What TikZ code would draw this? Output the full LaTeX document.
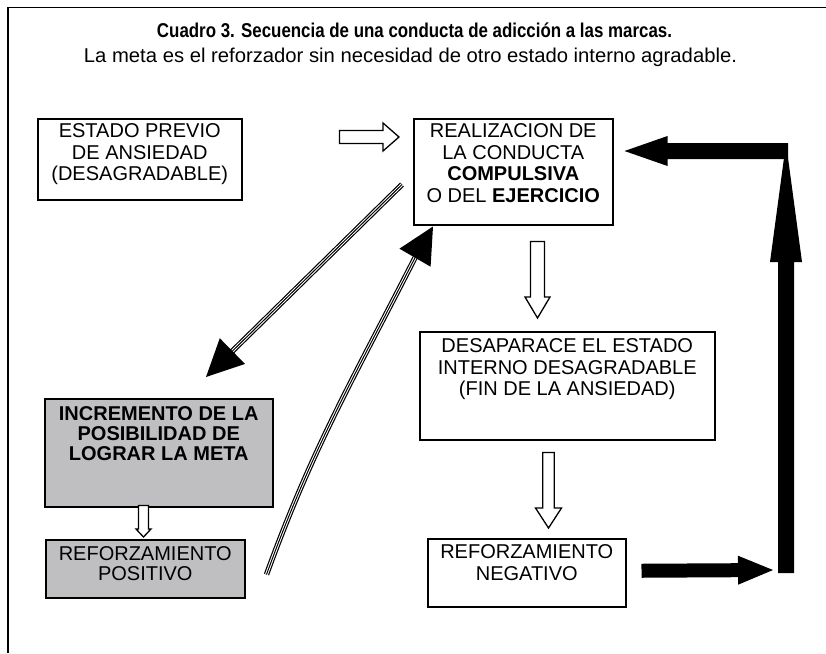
\documentclass[tikz,border=0pt]{standalone}
\usepackage{fontspec}
\setmainfont{Liberation Sans}
\usepackage{graphicx}
\usetikzlibrary{calc}
\definecolor{boxgray}{RGB}{191,191,193}

\begin{document}
\begin{tikzpicture}[
            x=1pt, y=-1pt,
            box/.style={
                    draw=black,
                    rectangle,
                    line width=1.5pt,
                    anchor=north west,
                    inner xsep=0pt,
                    inner ysep=0pt,
                    align=center,
                    font=\fontsize{20}{21.5}\selectfont
                },
            grayBox/.style={
                    box,
                    fill=boxgray,
                    font=\fontsize{20}{20}\selectfont\bfseries
                },
            titleText/.style={
                    anchor=base,
                    inner sep=0pt,
                    font=\fontsize{20}{22}\selectfont
                },
            blockarrow/.style n args={3}{
                    to path={
                            ($(\tikztotarget)!#3!(\tikztostart)$) coordinate (bq)
                            ($(\tikztostart)!#1!90:(\tikztotarget)$)
                            -- ($(bq)!#1!-90:(\tikztostart)$)
                            -- ($(bq)!#2!-90:(\tikztostart)$)
                            -- (\tikztotarget)
                            -- ($(bq)!#2!90:(\tikztostart)$)
                            -- ($(bq)!#1!90:(\tikztostart)$)
                            -- ($(\tikztostart)!#1!-90:(\tikztotarget)$)
                            -- cycle
                        }
                },
            hollow/.style n args={3}{
                    draw=black,
                    fill=white,
                    line width=1.3pt,
                    blockarrow={#1}{#2}{#3}
                },
            blackArrow/.style n args={3}{
                    fill=black,
                    blockarrow={#1}{#2}{#3}
                },
            tripleLine/.style={
                    draw=black,
                    line width=5.4pt,
                    shorten >=#1,
                    postaction={draw=white, line width=3pt, shorten >=#1},
                    postaction={draw=black, line width=1pt, shorten >=#1}
                },
            tripleLine/.default=0pt
            ]

            \useasboundingbox (0,0) rectangle (826,653);
            \draw[line width=1.2pt] (8,653) |- (826,7.5);

            % Titulo
            \node[titleText] (title) at (414.5,37) {\resizebox{515pt}{\height}{\bfseries Cuadro 3. Secuencia de una conducta de adicción a las marcas.}};
            \node[titleText] (subtitle) at (410.5,62) {\resizebox{653pt}{\height}{La meta es el reforzador sin necesidad de otro estado interno agradable.}};

            % 1. Estado previo (superior izquierda)
            \node[box, minimum width=204pt, text height=62pt, text depth=19pt] (prevState) at (37,118) {
                ESTADO PREVIO\\DE ANSIEDAD\\(DESAGRADABLE)
            };

            % 2. Realizacion de la conducta (superior centro)
            \node[box, minimum width=199pt, text height=83.5pt, text depth=22.5pt] (conduct) at (413,118) {
                REALIZACION DE\\LA CONDUCTA\\\textbf{COMPULSIVA}\\O DEL \textbf{EJERCICIO}
            };

            % 3. Fin de la ansiedad (centro derecha)
            \node[box, minimum width=295pt, text height=64pt, text depth=44pt] (noAnxiety) at (419,331) {
                DESAPARACE EL ESTADO\\INTERNO DESAGRADABLE\\(FIN DE LA ANSIEDAD)
            };

            % 4. Reforzamiento negativo (inferior derecha)
            \node[box, minimum width=198pt, text height=41.5pt, text depth=26.5pt] (negReinf) at (427,538) {
                REFORZAMIENTO\\NEGATIVO
            };

            % 5. Incremento de la posibilidad (izquierda)
            \node[grayBox, minimum width=228pt, text height=62pt, text depth=46pt] (goalChance) at (44,398) {
                INCREMENTO DE LA\\POSIBILIDAD DE\\LOGRAR LA META
            };

            % 6. Reforzamiento positivo (inferior izquierda)
            \node[grayBox, font=\fontsize{20}{20}\selectfont, minimum width=199pt, text height=41pt, text depth=17pt] (posReinf) at (45,539) {
                REFORZAMIENTO\\POSITIVO
            };

            % --- CONEXIONES ---

            % flechas huecas
            \draw[hollow={6.5pt}{14pt}{16pt}] ($(prevState.north east)+(97,19)$) to ($(conduct.north west)+(-14,19)$);
            \draw[hollow={7pt}{12.5pt}{21pt}] ($(conduct.south west)+(124.5,16)$) to ($(noAnxiety.north west)+(118.5,-13)$);
            \draw[hollow={5.75pt}{13pt}{20pt}] ($(noAnxiety.south west)+(129.5,12)$) to ($(negReinf.north west)+(121.5,-10)$);
            \draw[hollow={5pt}{7.5pt}{8pt}] ($(goalChance.south west)+(99.5,-2)$) to ($(posReinf.north west)+(98.5,-2)$);

            % flechas de triple linea
            \coordinate (dlStart) at ($(conduct.south west)+(-11,-41)$);
            \coordinate (dlTip) at ($(goalChance.north west)+(162,-21)$);
            \draw[tripleLine=30pt] (dlStart) -- (dlTip);
            \fill[blockarrow={0pt}{18pt}{37pt}] (dlStart) to (dlTip);

            \coordinate (upStart) at ($(posReinf.south east)+(21,-24)$);
            \coordinate (upTip) at ($(conduct.south west)+(20,1)$);
            \coordinate (upBase) at ($(upTip)+(-18,31.2)$);
            \draw[tripleLine] (upStart) to[out=70, in=243] (upBase);
            \fill[blockarrow={0pt}{18pt}{36pt}] (upBase) to (upTip);

            % lazo de flechas negras
            \coordinate (loopLow) at (786,573);
            \coordinate (loopHigh) at (786,143);
            \fill[blackArrow={7pt}{14.5pt}{35pt}] ($(negReinf.east)+(15,-2)$) to ($(loopLow)+(-13,-3)$);
            \fill[blackArrow={8pt}{16pt}{119pt}] (loopLow) to (loopHigh);
            \fill[blackArrow={8pt}{15pt}{43pt}] ($(loopHigh)+(2,8)$) to ($(conduct.north east)+(11,33)$);

        \end{tikzpicture}
\end{document}
